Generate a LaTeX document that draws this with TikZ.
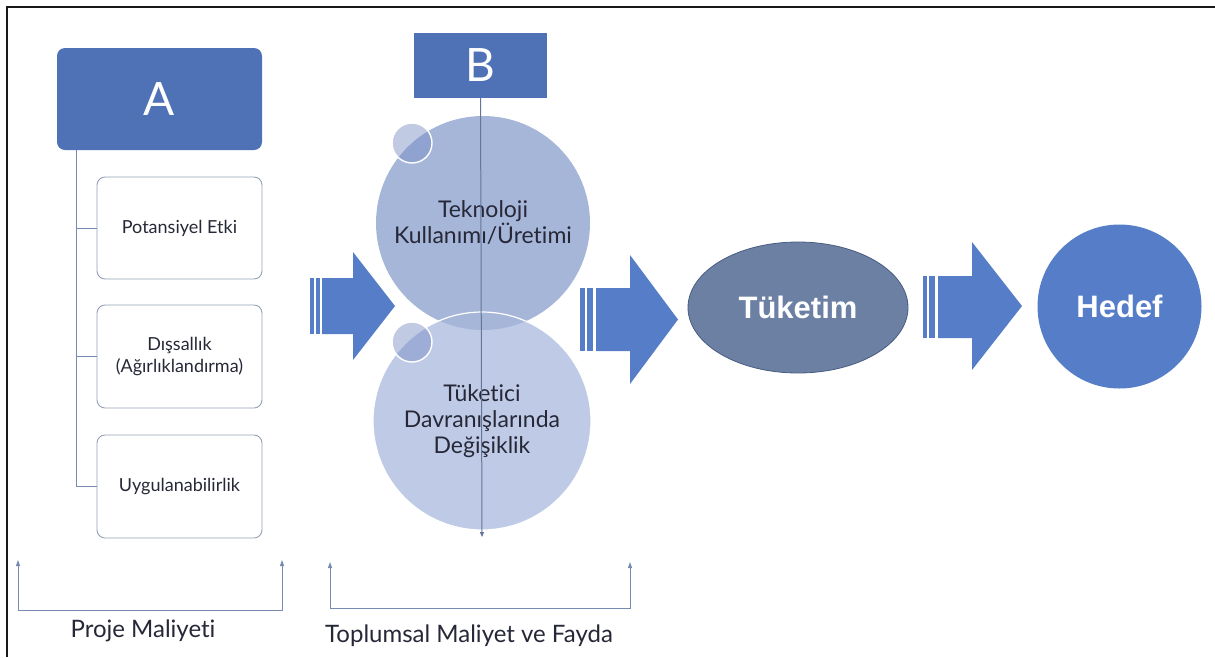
\documentclass[tikz,border=0pt]{standalone}
\usepackage{fontspec}
\setmainfont{Lato}[Ligatures=NoCommon]
\newfontfamily\headfont{Liberation Sans}
\usetikzlibrary{arrows.meta,shapes.geometric,calc}

\definecolor{headblue}{RGB}{79,114,183}
\definecolor{flowblue}{RGB}{86,126,200}
\definecolor{treeline}{RGB}{118,138,178}
\definecolor{boxline}{RGB}{150,160,180}
\definecolor{bigcircA}{RGB}{166,182,217}
\definecolor{bigcircB}{RGB}{191,203,230}
\definecolor{dotblue}{RGB}{118,138,195}
\definecolor{consume}{RGB}{107,128,163}
\definecolor{consumeline}{RGB}{72,92,128}
\definecolor{inktext}{RGB}{38,40,55}
\definecolor{frameline}{RGB}{25,25,25}

\tikzset{
  x=1pt, y=-1pt,
  headbox/.style={fill=headblue, text=white, inner sep=0,
    font=\fontsize{46}{50}\selectfont},
  treebox/.style={draw=boxline, line width=0.9pt, rounded corners=8pt,
    fill=white, minimum width=165pt, minimum height=102pt, inner sep=0,
    align=center, text=inktext, font=\fontsize{18}{22}\selectfont},
  treelink/.style={draw=treeline, line width=1pt},
  bigcirc/.style={circle, inner sep=0, align=center, text=inktext,
    font=\fontsize{23}{26}\selectfont},
  dotcirc/.style={fill=dotblue, fill opacity=0.45, draw=white, line width=1.4pt},
  flowarrow/.style={fill=flowblue, draw=none},
  bracket/.style={draw=treeline, line width=0.9pt,
    {Triangle[width=4pt,length=6pt]}-{Triangle[width=4pt,length=6pt]}},
  caption/.style={text=inktext, font=\fontsize{24}{28}\selectfont},
  goal/.style={text=white, font=\headfont\bfseries\fontsize{31}{34}\selectfont}
}

\begin{document}
\begin{tikzpicture}
\useasboundingbox (0,0) rectangle (1215,657);
\fill[white] (0,0) rectangle (1215,657);

% frame
\draw[frameline, line width=2pt] (7,657) -- (7,7) -- (1215,7);

% column A: header and its three items
\node[headbox, rounded corners=8pt, minimum width=205pt, minimum height=102pt]
  (A) at (159.5,99) {A};
\node[treebox] (p1) at (179.5,228) {Potansiyel Etki};
\node[treebox, minimum height=103pt] (p2) at (179.5,356.5) {Dışsallık\\(Ağırlıklandırma)};
\node[treebox, minimum height=103pt] (p3) at (179.5,486.5) {Uygulanabilirlik};
\coordinate (trunk) at ($(A.south west)+(20,0)$);
\draw[treelink] (trunk) |- (p3.west);
\draw[treelink] (trunk) |- (p1.west);
\draw[treelink] (trunk) |- (p2.west);

% column B: header and the two overlapping circles
\node[headbox, minimum width=133pt, minimum height=65pt] (B) at (480.5,65.5) {B};
\node[bigcirc, fill=bigcircB, minimum size=218pt] (tuk) at (482,421)
  {Tüketici\\Davranışlarında\\Değişiklik};
\node[bigcirc, fill=bigcircA, minimum size=214pt] (tek) at (483,223)
  {Teknoloji\\Kullanımı/Üretimi};
\draw[white, line width=1.2pt] (tuk.center) circle (109);
\path[dotcirc] ($(tek.center)+(-71,-80)$) circle (20);
\path[dotcirc] ($(tuk.center)+(-70,-79)$) circle (20);
\coordinate (Bend) at (482,537);
\draw[draw=treeline!85!black, line width=1pt,
  -{Triangle[width=4pt,length=5pt]}] (B.south) -- (Bend);

% block arrows with striped tails
\path[flowarrow] (310,278) rectangle (314,334);
\path[flowarrow] (316,278) rectangle (320,334);
\path[flowarrow] (322,278) -- (353,278) -- (353,252) -- (395,306)
  -- (353,360) -- (353,334) -- (322,334) -- cycle;

\path[flowarrow] (580,288) rectangle (585,351);
\path[flowarrow] (587,288) rectangle (593,351);
\path[flowarrow] (596,288) -- (630,288) -- (630,255) -- (678,319.5)
  -- (630,384) -- (630,351) -- (596,351) -- cycle;

\path[flowarrow] (923,276) rectangle (927,338);
\path[flowarrow] (929,276) rectangle (935,338);
\path[flowarrow] (938,276) -- (972,276) -- (972,242) -- (1022,306)
  -- (972,370) -- (972,338) -- (938,338) -- cycle;

% consumption and goal
\node[ellipse, fill=consume, draw=consumeline, line width=0.8pt,
  minimum width=220pt, minimum height=131pt, goal] (tuketim) at (798,307.5) {Tüketim};
\node[circle, fill=flowblue, minimum size=164pt, inner sep=0, goal]
  (hedef) at (1119.5,306.5) {Hedef};

% brackets underneath
\coordinate (pl-top) at (18,560);
\coordinate (pl-bot) at (18,610);
\coordinate (pr-bot) at (282,610);
\coordinate (pr-top) at (282,560);
\draw[bracket] (pl-top) -- (pl-bot) -- (pr-bot) -- (pr-top);
\node[caption] (proje) at (143,631) {Proje Maliyeti};

\coordinate (tl-top) at (330,562);
\coordinate (tl-bot) at (330,608);
\coordinate (tr-bot) at (630,608);
\coordinate (tr-top) at (630,562);
\draw[bracket] (tl-top) -- (tl-bot) -- (tr-bot) -- (tr-top);
\node[caption] (toplum) at (469,636) {Toplumsal Maliyet ve Fayda};
\end{tikzpicture}
\end{document}
